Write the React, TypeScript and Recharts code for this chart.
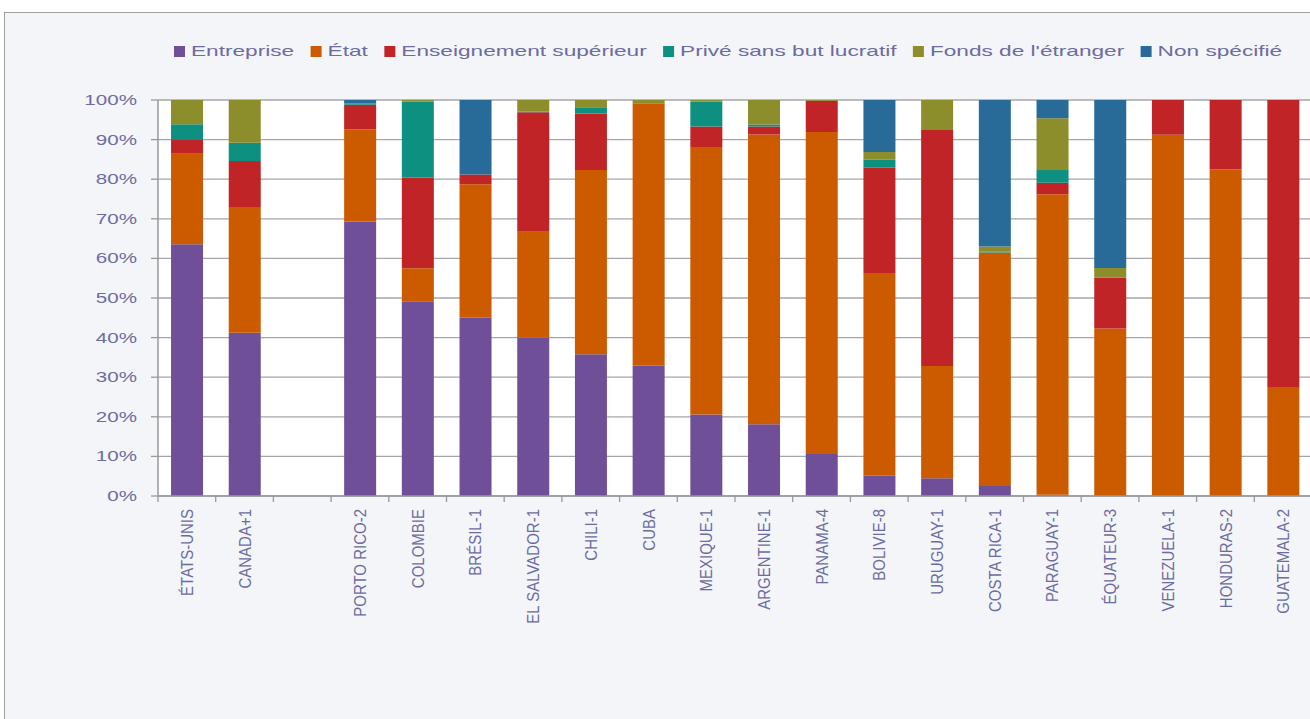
import React from "react";
import { BarChart, Bar, XAxis, YAxis, CartesianGrid } from "recharts";

const categories = [
    "ÉTATS-UNIS", "CANADA+1", "", "PORTO RICO-2", "COLOMBIE", "BRÉSIL-1", "EL SALVADOR-1",
    "CHILI-1", "CUBA", "MEXIQUE-1", "ARGENTINE-1", "PANAMA-4", "BOLIVIE-8", "URUGUAY-1",
    "COSTA RICA-1", "PARAGUAY-1", "ÉQUATEUR-3", "VENEZUELA-1", "HONDURAS-2", "GUATEMALA-2",
];

const entreprise = [63.6, 41.2, 0, 69.5, 49.2, 45.0, 40.0, 35.8, 32.9, 20.6, 18.1, 10.6, 5.1, 4.5, 2.5, 0.3, 0, 0, 0, 0];
const etat = [22.8, 31.8, 0, 23.3, 8.3, 33.7, 26.7, 46.5, 66.3, 67.5, 73.2, 81.3, 51.2, 28.3, 59.0, 75.9, 42.3, 91.2, 82.5, 27.5];
const enseignement = [3.5, 11.6, 0, 6.3, 22.9, 2.5, 30.2, 14.3, 0, 5.2, 2.0, 7.9, 26.6, 59.7, 0, 2.9, 12.8, 8.8, 17.5, 72.5];
const prive = [4.0, 4.6, 0, 0.3, 19.2, 0, 0.2, 1.6, 0, 6.3, 0.5, 0, 2.0, 0.2, 0.2, 3.2, 0, 0, 0, 0];
const fonds = [6.1, 10.8, 0, 0, 0.4, 0, 2.9, 1.8, 0.8, 0.4, 6.2, 0.2, 2.0, 7.3, 1.3, 13.1, 2.5, 0, 0, 0];
const nonSpecifie = [0, 0, 0, 0.9, 0, 18.8, 0, 0, 0, 0, 0, 0, 13.1, 0, 37.0, 4.6, 42.4, 0, 0, 0];

const yTicks = [0, 0.1, 0.2, 0.3, 0.4, 0.5, 0.6, 0.7, 0.8, 0.9, 1];

const series = [
    { key: "entreprise", name: "Entreprise", color: "#6f4f98" },
    { key: "etat", name: "État", color: "#cc5b00" },
    { key: "enseignement", name: "Enseignement supérieur", color: "#c02426" },
    { key: "prive", name: "Privé sans but lucratif", color: "#0e9080" },
    { key: "fonds", name: "Fonds de l'étranger", color: "#8b8e2a" },
    { key: "nonSpecifie", name: "Non spécifié", color: "#286b98" },
];

const data = categories.map((c, i) => ({
    name: c,
    entreprise: entreprise[i],
    etat: etat[i],
    enseignement: enseignement[i],
    prive: prive[i],
    fonds: fonds[i],
    nonSpecifie: nonSpecifie[i],
}));

const FONT = "'Liberation Sans', Arial, sans-serif";
const TEXT = "#6c6ca0";
const STRETCH = 1.47;

const CHART_W = 1330;
const CHART_H = 719;
const MARGIN = { top: 100, right: 18, bottom: 0, left: 0 };
const Y_W = 158;
const BAND = (CHART_W - MARGIN.right - MARGIN.left - Y_W) / categories.length;

function measure(text: string, size: number) {
    const ctx = document.createElement("canvas").getContext("2d");
    if (!ctx) return text.length * size * 0.55;
    ctx.font = `${size}px 'Liberation Sans'`;
    return ctx.measureText(text).width;
}

function Legend() {
    const size = 15.4;
    let x = 174;
    const items = series.map((s) => {
        const item = { ...s, x };
        x += 17 + measure(s.name, size) * STRETCH + 16.5;
        return item;
    });
    return (
        <svg width={1310} height={70} style={{ position: "absolute", left: 0, top: 0 }}>
            {items.map((it) => (
                <g key={it.key}>
                    <rect x={it.x} y={46} width={11} height={11} fill={it.color} />
                    <text
                        transform={`translate(${it.x + 17},56.3) scale(${STRETCH},1)`}
                        fontSize={size}
                        fontFamily={FONT}
                        fill={TEXT}
                    >
                        {it.name}
                    </text>
                </g>
            ))}
        </svg>
    );
}

function YTick(props: any) {
    const { x, y, payload } = props;
    return (
        <text
            transform={`translate(${x},${y}) scale(1.42,1)`}
            textAnchor="end"
            dy="0.35em"
            fontSize={14.5}
            fontFamily={FONT}
            fill={TEXT}
        >
            {`${Math.round(payload.value * 100)}%`}
        </text>
    );
}

function XTick(props: any) {
    const { x, y, payload, index } = props;
    const left = x - BAND / 2;
    return (
        <g>
            <line x1={left} y1={y} x2={left} y2={y + 6} stroke="#999" strokeWidth={1.3} />
            {index === categories.length - 1 && (
                <line x1={left + BAND} y1={y} x2={left + BAND} y2={y + 6} stroke="#999" strokeWidth={1.3} />
            )}
            <text
                transform={`translate(${x},${y + 13}) scale(1.15,1) rotate(-90)`}
                textAnchor="end"
                dy="0.35em"
                fontSize={15}
                fontFamily={FONT}
                fill={TEXT}
            >
                {payload.value}
            </text>
        </g>
    );
}

export default function App() {
    return (
        <div style={{ position: "absolute", left: 0, top: 0, width: 1310, height: 719, overflow: "hidden", background: "#fff" }}>
            <div
                style={{
                    position: "absolute",
                    left: 4,
                    top: 12,
                    width: 1400,
                    height: 800,
                    border: "1.5px solid #a0a0a0",
                    background: "#f4f5f9",
                }}
            />
            <div style={{ position: "absolute", left: 0, top: 0 }}>
                <BarChart
                    width={CHART_W}
                    height={CHART_H}
                    data={data}
                    margin={MARGIN}
                    stackOffset="expand"
                    barCategoryGap="22.6%"
                >
                    <CartesianGrid vertical={false} stroke="#a6a6a6" strokeWidth={1.3} fill="#ffffff" />
                    <XAxis
                        dataKey="name"
                        interval={0}
                        height={223}
                        tickSize={0}
                        tickMargin={0}
                        tickLine={false}
                        axisLine={{ stroke: "#999", strokeWidth: 1.5 }}
                        tick={<XTick />}
                    />
                    <YAxis
                        width={Y_W}
                        domain={[0, 1]}
                        ticks={yTicks}
                        tickSize={7}
                        tickMargin={14}
                        tickLine={{ stroke: "#999", strokeWidth: 1.3 }}
                        axisLine={{ stroke: "#999", strokeWidth: 1.5 }}
                        tick={<YTick />}
                    />
                    {series.map((s) => (
                        <Bar
                            key={s.key}
                            dataKey={s.key}
                            name={s.name}
                            stackId="a"
                            fill={s.color}
                            isAnimationActive={false}
                        />
                    ))}
                </BarChart>
            </div>
            <Legend />
        </div>
    );
}
